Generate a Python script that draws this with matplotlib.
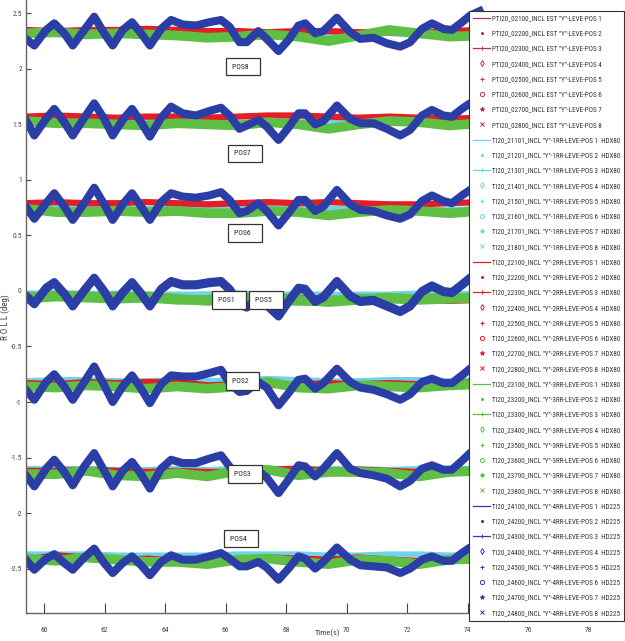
import matplotlib
matplotlib.use("Agg")
import matplotlib.pyplot as plt
from matplotlib import font_manager
from matplotlib.lines import Line2D

# time bases (s)
T_FLAT = [59.4, 60.4, 61.4, 62.4, 63.4, 64.4, 65.4, 66.4, 67.4, 68.4,
          69.4, 70.4, 71.4, 72.4, 73.4, 74.4]
T_BLUE = [59.40, 59.68, 60.07, 60.34, 60.67, 60.95, 61.33, 61.66, 61.99, 62.27,
          62.60, 62.91, 63.21, 63.50, 63.87, 64.20, 64.58, 65.02, 65.46, 65.85,
          66.13, 66.46, 66.70, 67.08, 67.36, 67.75, 68.08, 68.41, 68.63, 68.96,
          69.23, 69.68, 70.12, 70.45, 70.89, 71.33, 71.77, 72.10, 72.49, 72.82,
          73.20, 73.48, 73.81, 74.08, 74.40]

POSITIONS = [1, 2, 3, 4, 5, 6, 7, 8]

# 1RR sensors (cyan), rows = POS 1..8
CYAN_VALS = [
    [-0.02, -0.02, -0.03, -0.02, -0.03, -0.03, -0.03, -0.03, -0.04, -0.03, -0.03, -0.04, -0.04, -0.03, -0.02, -0.03],
    [-0.81, -0.80, -0.80, -0.81, -0.81, -0.80, -0.81, -0.80, -0.79, -0.80, -0.81, -0.81, -0.80, -0.80, -0.81, -0.80],
    [-1.60, -1.60, -1.60, -1.61, -1.61, -1.60, -1.61, -1.60, -1.60, -1.60, -1.60, -1.60, -1.61, -1.60, -1.60, -1.60],
    [-2.37, -2.37, -2.37, -2.38, -2.38, -2.38, -2.38, -2.37, -2.37, -2.37, -2.38, -2.38, -2.37, -2.37, -2.38, -2.37],
    [-0.03, -0.02, -0.02, -0.03, -0.03, -0.04, -0.03, -0.02, -0.03, -0.03, -0.04, -0.03, -0.03, -0.02, -0.03, -0.02],
    [0.75, 0.75, 0.74, 0.74, 0.74, 0.75, 0.74, 0.74, 0.75, 0.74, 0.74, 0.74, 0.75, 0.73, 0.73, 0.74],
    [1.53, 1.53, 1.52, 1.52, 1.52, 1.53, 1.52, 1.51, 1.52, 1.53, 1.52, 1.52, 1.53, 1.51, 1.50, 1.52],
    [2.31, 2.31, 2.30, 2.31, 2.31, 2.31, 2.30, 2.30, 2.31, 2.31, 2.30, 2.31, 2.32, 2.30, 2.29, 2.31],
]

# 2RR sensors (red)
RED_VALS = [
    [-0.04, -0.05, -0.04, -0.05, -0.06, -0.08, -0.08, -0.06, -0.05, -0.07, -0.08, -0.07, -0.08, -0.09, -0.08, -0.07],
    [-0.83, -0.84, -0.82, -0.83, -0.82, -0.82, -0.85, -0.84, -0.85, -0.84, -0.83, -0.84, -0.83, -0.84, -0.83, -0.82],
    [-1.62, -1.62, -1.61, -1.62, -1.63, -1.62, -1.63, -1.63, -1.61, -1.60, -1.62, -1.61, -1.62, -1.63, -1.62, -1.61],
    [-2.42, -2.38, -2.40, -2.43, -2.41, -2.43, -2.45, -2.43, -2.40, -2.41, -2.42, -2.40, -2.42, -2.43, -2.41, -2.44],
    [-0.05, -0.06, -0.05, -0.04, -0.06, -0.07, -0.07, -0.07, -0.06, -0.06, -0.07, -0.08, -0.07, -0.08, -0.09, -0.08],
    [0.79, 0.80, 0.79, 0.79, 0.80, 0.79, 0.78, 0.79, 0.80, 0.79, 0.80, 0.79, 0.78, 0.78, 0.79, 0.80],
    [1.57, 1.58, 1.57, 1.56, 1.57, 1.57, 1.56, 1.57, 1.58, 1.58, 1.57, 1.56, 1.57, 1.56, 1.55, 1.56],
    [2.35, 2.34, 2.35, 2.35, 2.36, 2.35, 2.34, 2.34, 2.33, 2.34, 2.34, 2.33, 2.33, 2.33, 2.34, 2.35],
]

# 3RR sensors (green)
GREEN_VALS = [
    [-0.06, -0.04, -0.05, -0.06, -0.05, -0.07, -0.09, -0.07, -0.07, -0.08, -0.10, -0.08, -0.06, -0.08, -0.07, -0.06],
    [-0.86, -0.87, -0.85, -0.86, -0.88, -0.86, -0.88, -0.86, -0.82, -0.87, -0.88, -0.85, -0.86, -0.87, -0.85, -0.84],
    [-1.65, -1.65, -1.62, -1.66, -1.67, -1.64, -1.67, -1.62, -1.61, -1.66, -1.63, -1.63, -1.64, -1.67, -1.63, -1.62],
    [-2.41, -2.43, -2.40, -2.42, -2.44, -2.44, -2.46, -2.42, -2.41, -2.44, -2.46, -2.42, -2.43, -2.46, -2.42, -2.41],
    [-0.07, -0.05, -0.06, -0.07, -0.06, -0.08, -0.08, -0.06, -0.08, -0.09, -0.09, -0.07, -0.07, -0.07, -0.06, -0.07],
    [0.74, 0.71, 0.71, 0.72, 0.71, 0.72, 0.70, 0.70, 0.72, 0.71, 0.68, 0.71, 0.73, 0.72, 0.70, 0.72],
    [1.53, 1.51, 1.51, 1.50, 1.49, 1.51, 1.50, 1.49, 1.52, 1.50, 1.46, 1.50, 1.53, 1.52, 1.49, 1.51],
    [2.32, 2.33, 2.31, 2.32, 2.31, 2.30, 2.28, 2.29, 2.31, 2.29, 2.25, 2.30, 2.35, 2.32, 2.29, 2.30],
]

# 4RR sensors (blue), sampled on T_BLUE
BLUE_VALS = [
    [-0.05, -0.12, 0.02, 0.07, -0.03, -0.14, 0.00, 0.11, -0.01, -0.14,
     -0.02, 0.07, -0.03, -0.14, 0.01, 0.08, 0.05, 0.05, 0.07, 0.08,
     0.01, -0.12, -0.15, -0.08, -0.13, -0.23, -0.10, 0.02, 0.01, -0.10,
     -0.06, 0.08, -0.05, -0.10, -0.09, -0.14, -0.19, -0.14, -0.01, 0.04,
     -0.01, -0.02, 0.05, 0.11, 0.15],
    [-0.89, -0.98, -0.82, -0.75, -0.86, -0.98, -0.82, -0.68, -0.85, -1.00,
     -0.86, -0.76, -0.88, -1.01, -0.84, -0.76, -0.77, -0.77, -0.74, -0.71,
     -0.83, -0.91, -0.90, -0.82, -0.87, -1.03, -0.92, -0.80, -0.79, -0.88,
     -0.83, -0.70, -0.82, -0.87, -0.89, -0.93, -0.98, -0.93, -0.82, -0.79,
     -0.83, -0.83, -0.76, -0.70, -0.66],
    [-1.66, -1.76, -1.60, -1.52, -1.63, -1.75, -1.58, -1.46, -1.62, -1.76,
     -1.62, -1.54, -1.65, -1.78, -1.60, -1.52, -1.55, -1.55, -1.51, -1.48,
     -1.58, -1.68, -1.66, -1.62, -1.68, -1.82, -1.70, -1.57, -1.58, -1.67,
     -1.60, -1.46, -1.60, -1.64, -1.66, -1.69, -1.76, -1.71, -1.60, -1.57,
     -1.61, -1.61, -1.53, -1.46, -1.42],
    [-2.42, -2.51, -2.41, -2.37, -2.45, -2.51, -2.40, -2.32, -2.45, -2.54,
     -2.45, -2.39, -2.47, -2.56, -2.44, -2.38, -2.42, -2.42, -2.39, -2.36,
     -2.41, -2.48, -2.48, -2.44, -2.49, -2.60, -2.50, -2.39, -2.41, -2.50,
     -2.44, -2.31, -2.42, -2.47, -2.48, -2.49, -2.54, -2.50, -2.42, -2.39,
     -2.43, -2.43, -2.36, -2.31, -2.28],
    [-0.04, -0.11, 0.03, 0.08, -0.02, -0.13, 0.01, 0.12, 0.00, -0.13,
     -0.01, 0.08, -0.02, -0.13, 0.02, 0.09, 0.06, 0.06, 0.08, 0.09,
     0.02, -0.11, -0.14, -0.07, -0.12, -0.22, -0.09, 0.03, 0.02, -0.09,
     -0.05, 0.09, -0.04, -0.09, -0.08, -0.13, -0.18, -0.13, 0.00, 0.05,
     0.00, -0.01, 0.06, 0.12, 0.16],
    [0.76, 0.65, 0.79, 0.88, 0.76, 0.64, 0.79, 0.93, 0.78, 0.64,
     0.78, 0.88, 0.76, 0.64, 0.80, 0.88, 0.85, 0.84, 0.86, 0.89,
     0.82, 0.70, 0.72, 0.79, 0.72, 0.59, 0.70, 0.82, 0.82, 0.72,
     0.76, 0.91, 0.78, 0.73, 0.72, 0.68, 0.65, 0.69, 0.81, 0.86,
     0.81, 0.79, 0.86, 0.91, 0.95],
    [1.54, 1.40, 1.55, 1.64, 1.52, 1.40, 1.56, 1.69, 1.55, 1.40,
     1.54, 1.64, 1.52, 1.39, 1.56, 1.66, 1.60, 1.58, 1.62, 1.65,
     1.58, 1.46, 1.49, 1.54, 1.48, 1.36, 1.47, 1.60, 1.60, 1.50,
     1.53, 1.67, 1.55, 1.51, 1.51, 1.46, 1.40, 1.45, 1.58, 1.63,
     1.58, 1.57, 1.64, 1.69, 1.72],
    [2.27, 2.21, 2.35, 2.41, 2.32, 2.21, 2.35, 2.47, 2.32, 2.21,
     2.35, 2.42, 2.32, 2.21, 2.36, 2.44, 2.40, 2.39, 2.42, 2.44,
     2.38, 2.24, 2.24, 2.34, 2.27, 2.16, 2.26, 2.39, 2.41, 2.32,
     2.34, 2.46, 2.33, 2.27, 2.28, 2.23, 2.20, 2.24, 2.36, 2.41,
     2.36, 2.35, 2.42, 2.48, 2.52],
]

Y_TICKS = [-2.5, -2, -1.5, -1, -0.5, 0, 0.5, 1, 1.5, 2, 2.5]
Y_TICK_LABELS = ['-2.5', '-2', '-1.5', '-1', '-0.5', '0', '0.5', '1', '1.5', '2', '2.5']
X_TICKS = [60, 62, 64, 66, 68, 70, 72, 74, 76, 78]

# text boxes naming each group of traces: (label, x, y)
POS_LABELS = [('POS8', 66.21, 2.02), ('POS7', 66.28, 1.24), ('POS6', 66.28, 0.52),
              ('POS1', 65.75, -0.08), ('POS5', 66.98, -0.08), ('POS2', 66.21, -0.81),
              ('POS3', 66.28, -1.65), ('POS4', 66.15, -2.23)]

# marker style per position, MATLAB-like
POS_STYLE = {1: ('-', None), 2: ('', '.'), 3: ('-', '+'), 4: ('', 'd'),
             5: ('', '+'), 6: ('', 'o'), 7: ('', '*'), 8: ('', 'x')}

PURPLE = '#a8326e'
CYAN = '#6fd3ea'
RED = '#e31e24'
GREEN = '#5fbf45'
BLUE = '#2b3ea6'

# look for a narrow face for the crowded legend
fonts = font_manager.fontManager.ttflist
avail = {f.name for f in fonts}
FAMILY, STRETCH, LEG_FS = 'Liberation Sans', 'normal', 4.3
for cand in ['Liberation Sans Narrow', 'Arial Narrow', 'Roboto Condensed',
             'Noto Sans Condensed', 'Open Sans Condensed', 'DejaVu Sans Condensed']:
    if cand in avail:
        FAMILY, LEG_FS = cand, 5.1
        break
else:
    for fam in ['Noto Sans', 'DejaVu Sans', 'Open Sans', 'Roboto']:
        if any(f.name == fam and f.stretch in ('condensed', 'semi-condensed') and f.style == 'normal'
               for f in fonts):
            FAMILY, STRETCH, LEG_FS = fam, 'condensed', 4.8
            break
plt.rcParams['font.family'] = [FAMILY, 'DejaVu Sans']
plt.rcParams['font.stretch'] = STRETCH

fig = plt.figure(figsize=(6.25, 6.41), dpi=100)
ax = fig.add_axes([26 / 625, 28 / 641, 599 / 625, 613 / 641])

handles = []
labels = []


def add_group(vals, times, color, lw, name_fmt, hidden=False):
    for i, p in enumerate(POSITIONS):
        ax.plot(times, vals[i], color=color, lw=lw, solid_joinstyle='round',
                zorder=1.5 if hidden else 2)
        ls, mk = POS_STYLE[p]
        handles.append(Line2D([], [], color=color, linestyle=ls or 'None', lw=0.9,
                              marker=mk, markersize=3,
                              markerfacecolor='none' if mk in ('d', 'o') else color,
                              markeredgewidth=0.7))
        labels.append(name_fmt.format(n=p))


# PT sensors lie underneath the 1RR traces
add_group(CYAN_VALS, T_FLAT, PURPLE, 1.0, 'PTI20_02{n}00_INCL EST "Y"-LEVE-POS {n}', hidden=True)
add_group(CYAN_VALS, T_FLAT, CYAN, 4.0, 'TI20_21{n}01_INCL "Y"-1RR-LEVE-POS {n}  HDX80')
add_group(RED_VALS, T_FLAT, RED, 4.5, 'TI20_22{n}00_INCL "Y"-2RR-LEVE-POS {n}  HDX80')
add_group(GREEN_VALS, T_FLAT, GREEN, 7.0, 'TI20_23{n}00_INCL "Y"-3RR-LEVE-POS {n}  HDX80')
add_group(BLUE_VALS, T_BLUE, BLUE, 5.8, 'TI20_24{n}00_INCL "Y"-4RR-LEVE-POS {n}  HD225')

for txt, x, y in POS_LABELS:
    ax.text(x, y, txt + '   ', fontsize=5.5, ha='left', va='center', color='#222',
            bbox=dict(boxstyle='square,pad=0.75', fc='white', ec='#333', lw=0.9), zorder=6)

ax.set_xlim(59.405, 79.2)
ax.set_ylim(-2.90, 2.62)
ax.set_xticks(X_TICKS)
ax.set_xticklabels([str(t) for t in X_TICKS])
ax.set_yticks(Y_TICKS)
ax.set_yticklabels(Y_TICK_LABELS)
ax.tick_params(axis='x', direction='in', length=7, width=0.8, labelsize=5.5,
               colors='#444', pad=10)
ax.tick_params(axis='y', direction='in', length=3.5, width=0.8, labelsize=5.5,
               colors='#444', pad=3)
ax.spines['top'].set_visible(False)
ax.spines['right'].set_visible(False)
for s in ('left', 'bottom'):
    ax.spines[s].set_color('#666')
    ax.spines[s].set_linewidth(1.0)

ax.set_ylabel('R O L L (deg)', fontsize=6.5, color='#444')
ax.yaxis.set_label_coords(-0.027, 0.483)
ax.set_xlabel('Time(s)', fontsize=6, color='#444')
ax.xaxis.set_label_coords(0.503, -0.026)

fs_px = LEG_FS * 100 / 72
ROW_PX = 15.25


def make_legend(spacing):
    lg = ax.legend(handles, labels, loc='upper left', bbox_to_anchor=(469 / 625, 1 - 11 / 641),
                   bbox_transform=fig.transFigure, fontsize=LEG_FS, labelspacing=spacing,
                   handlelength=17 / fs_px, handletextpad=1.5 / fs_px,
                   borderpad=4 / fs_px, borderaxespad=0,
                   fancybox=False, framealpha=1, edgecolor='#333')
    lg.get_frame().set_linewidth(0.8)
    for t in lg.get_texts():
        t.set_color('#333')
    lg.set_zorder(10)
    return lg


# first guess, then correct the row pitch from the drawn layout
spacing = ROW_PX / fs_px - 0.9
leg = make_legend(spacing)
fig.canvas.draw()
tx = leg.get_texts()
r = fig.canvas.get_renderer()
y0 = tx[0].get_window_extent(r).y0
y1 = tx[-1].get_window_extent(r).y0
pitch = (y0 - y1) / (len(tx) - 1)
leg.remove()
leg = make_legend(spacing + (ROW_PX - pitch) / fs_px)

fig.savefig('out.png', dpi=100)
